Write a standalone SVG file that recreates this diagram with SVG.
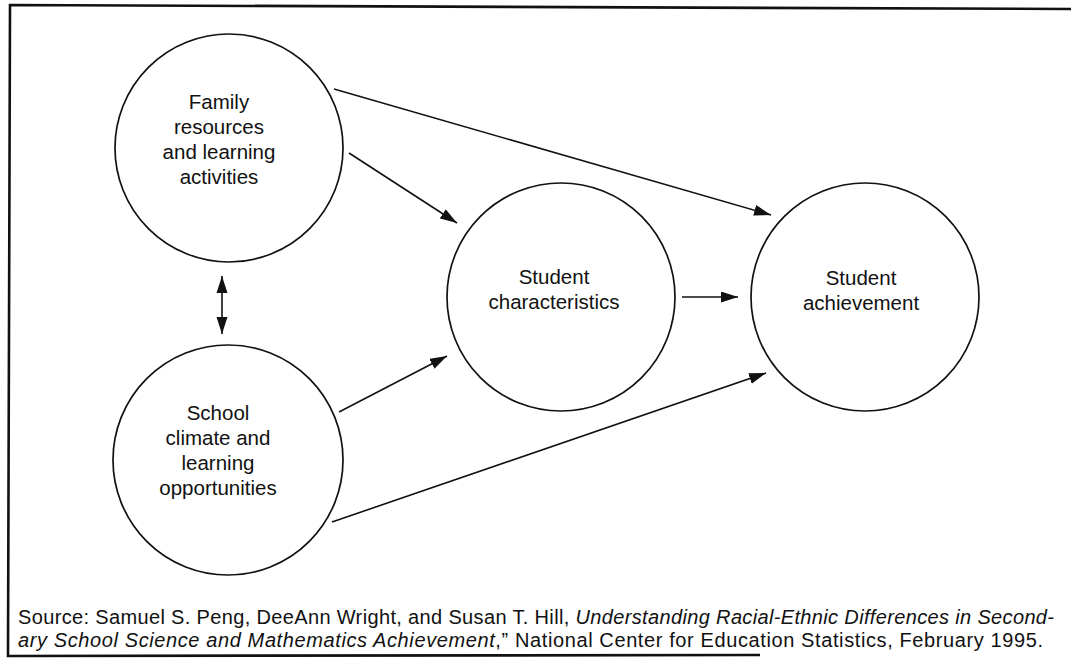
<svg xmlns="http://www.w3.org/2000/svg" width="1071" height="662" viewBox="0 0 1071 662">
<style>
.node{fill:#fff;stroke:#111;stroke-width:1.7}
.lbl{font-family:"Liberation Sans",Arial,sans-serif;font-size:20.5px;fill:#111;text-anchor:middle}
.conn line{stroke:#111;stroke-width:1.6}
.src{font-family:"Liberation Sans",Arial,sans-serif;font-size:20px;fill:#111}
.frame{fill:none;stroke:#111;stroke-width:2.6}
</style>
<defs>
<marker id="ah" markerUnits="userSpaceOnUse" markerWidth="18" markerHeight="12" refX="17" refY="5.5" orient="auto">
<path d="M0,0 L17,5.5 L0,11 z" fill="#111"/>
</marker>
<marker id="ahs" markerUnits="userSpaceOnUse" markerWidth="18" markerHeight="12" refX="0" refY="5.5" orient="auto">
<path d="M17,0 L0,5.5 L17,11 z" fill="#111"/>
</marker>
</defs>
<rect width="1071" height="662" fill="#fff"/>
<path class="frame" d="M1071,9 L10,5 L8,656 L760,655"/>
<g id="family">
<circle class="node" cx="229" cy="148" r="114"/>
<text class="lbl" x="219" y="109">Family</text>
<text class="lbl" x="219" y="134">resources</text>
<text class="lbl" x="219" y="159">and learning</text>
<text class="lbl" x="219" y="184">activities</text>
</g>
<g id="school">
<circle class="node" cx="228" cy="460" r="115"/>
<text class="lbl" x="218" y="420">School</text>
<text class="lbl" x="218" y="445">climate and</text>
<text class="lbl" x="218" y="470">learning</text>
<text class="lbl" x="218" y="495">opportunities</text>
</g>
<g id="characteristics">
<circle class="node" cx="561" cy="297" r="114"/>
<text class="lbl" x="554" y="284">Student</text>
<text class="lbl" x="554" y="309">characteristics</text>
</g>
<g id="achievement">
<circle class="node" cx="865" cy="297" r="114"/>
<text class="lbl" x="861" y="285">Student</text>
<text class="lbl" x="861" y="310">achievement</text>
</g>
<g id="connectors" class="conn">
<line x1="334" y1="89" x2="771" y2="215" marker-end="url(#ah)"/>
<line x1="349" y1="153" x2="457" y2="223" marker-end="url(#ah)"/>
<line x1="682" y1="297" x2="738" y2="297" marker-end="url(#ah)"/>
<line x1="339" y1="412" x2="447" y2="356" marker-end="url(#ah)"/>
<line x1="332" y1="522" x2="766" y2="373" marker-end="url(#ah)"/>
<line x1="222" y1="276" x2="222" y2="334" marker-start="url(#ahs)" marker-end="url(#ah)"/>
</g>
<g id="source">
<text class="src" x="18" y="624" textLength="1036" lengthAdjust="spacing">Source: Samuel S. Peng, DeeAnn Wright, and Susan T. Hill, <tspan font-style="italic">Understanding Racial-Ethnic Differences in Second-</tspan></text>
<text class="src" x="18" y="647" textLength="1025" lengthAdjust="spacing"><tspan font-style="italic">ary School Science and Mathematics Achievement</tspan>,” National Center for Education Statistics, February 1995.</text>
</g>
</svg>
